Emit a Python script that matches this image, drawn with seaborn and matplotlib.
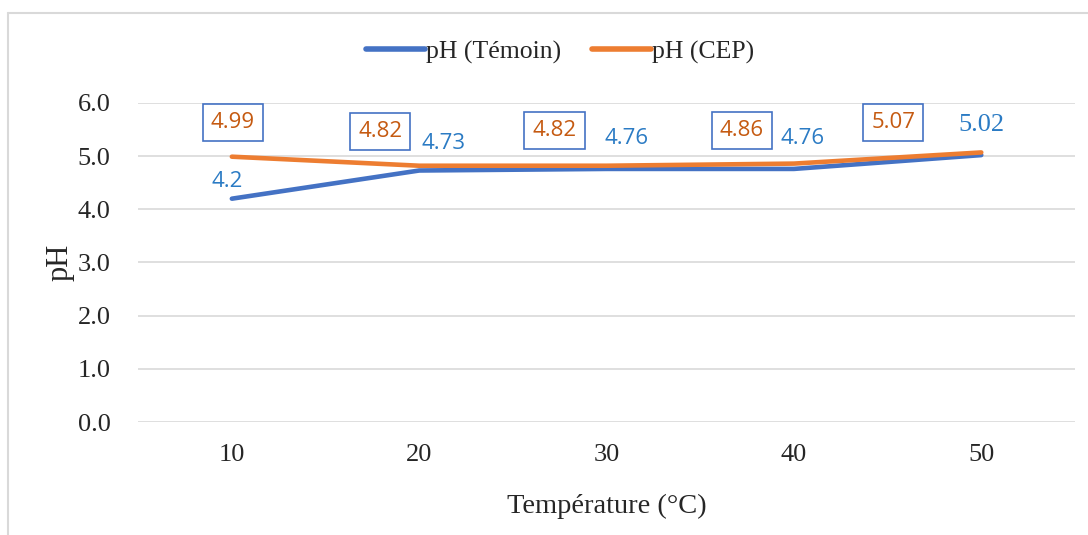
import matplotlib as mpl
import matplotlib.pyplot as plt
from matplotlib.lines import Line2D
import seaborn as sns
import pandas as pd

temperatures = ['10', '20', '30', '40', '50']
ph_temoin = [4.2, 4.73, 4.76, 4.76, 5.02]
ph_cep = [4.99, 4.82, 4.82, 4.86, 5.07]
series_names = ['pH (Témoin)', 'pH (CEP)']
y_ticks = [0.0, 1.0, 2.0, 3.0, 4.0, 5.0, 6.0]

BLUE = '#4472C4'
ORANGE = '#ED7D31'
BLUE_TXT = '#2B7BC4'
ORANGE_TXT = '#C55A11'

sns.set_style('white')
mpl.rcParams['font.family'] = ['Liberation Serif', 'DejaVu Serif']

df = pd.DataFrame({
    'Temperature': temperatures * 2,
    'pH': ph_temoin + ph_cep,
    'Serie': [series_names[0]] * 5 + [series_names[1]] * 5,
})

fig = plt.figure(figsize=(10.88, 5.35), dpi=100)
ax = fig.add_axes([0.127, 0.2112, 0.861, 0.5963])

sns.lineplot(data=df, x='Temperature', y='pH', hue='Serie', sort=False,
             palette=[BLUE, ORANGE], linewidth=3.3, ax=ax, legend=False,
             solid_capstyle='round')

ax.set_xlim(-0.5, 4.5)
ax.set_ylim(0, 6)
ax.set_yticks(y_ticks)
ax.set_yticklabels([f'{v:.1f}' for v in y_ticks])
ax.yaxis.grid(True, color='#D9D9D9', linewidth=1.2)
ax.xaxis.grid(False)
ax.tick_params(axis='both', length=0, labelsize=19)
ax.tick_params(axis='y', pad=20)
ax.tick_params(axis='x', pad=16)
sns.despine(ax=ax, left=True, bottom=True)
ax.set_xlabel('Température (°C)', fontsize=20.5, labelpad=20)
ax.set_ylabel('pH', fontsize=22, labelpad=2)

# data labels (offsets in pixels)
temoin_off = [(-5, 17), (24, 27), (20, 30), (9, 30), (0, 30)]
cep_off = [(1, 34), (-39, 34), (-52, 35), (-52, 33), (-88, 30)]
for i, t in enumerate(temperatures):
    v = ph_temoin[i]
    lab = f'{v:g}'
    fam = ['Liberation Serif'] if i == 4 else ['Open Sans', 'DejaVu Sans']
    fs = 19 if i == 4 else 16
    ax.annotate(lab, (i, v), xytext=temoin_off[i], textcoords='offset pixels',
                ha='center', va='center', color=BLUE_TXT, fontsize=fs, family=fam)
    v = ph_cep[i]
    ax.annotate(f'{v:.2f}', (i, v), xytext=cep_off[i], textcoords='offset pixels',
                ha='center', va='center', color=ORANGE_TXT, fontsize=16,
                family=['Open Sans', 'DejaVu Sans'],
                bbox=dict(boxstyle='square,pad=0.36', fc='white', ec=BLUE, lw=1.2))

handles = [Line2D([], [], color=BLUE, lw=4, solid_capstyle='round'),
           Line2D([], [], color=ORANGE, lw=4, solid_capstyle='round')]
fig.legend(handles, series_names, loc='center', bbox_to_anchor=(560 / 1088, 0.903),
           ncol=2, frameon=False, fontsize=18.5, handlelength=2.3,
           handletextpad=0.05, columnspacing=1.2)

# outer chart border
fig.add_artist(Line2D([8 / 1088, 1.0], [1 - 13 / 535, 1 - 13 / 535],
                      transform=fig.transFigure, color='#D9D9D9', lw=1.5))
fig.add_artist(Line2D([8 / 1088, 8 / 1088], [0.0, 1 - 13 / 535],
                      transform=fig.transFigure, color='#D9D9D9', lw=1.5))

fig.savefig('out.png', dpi=100)
